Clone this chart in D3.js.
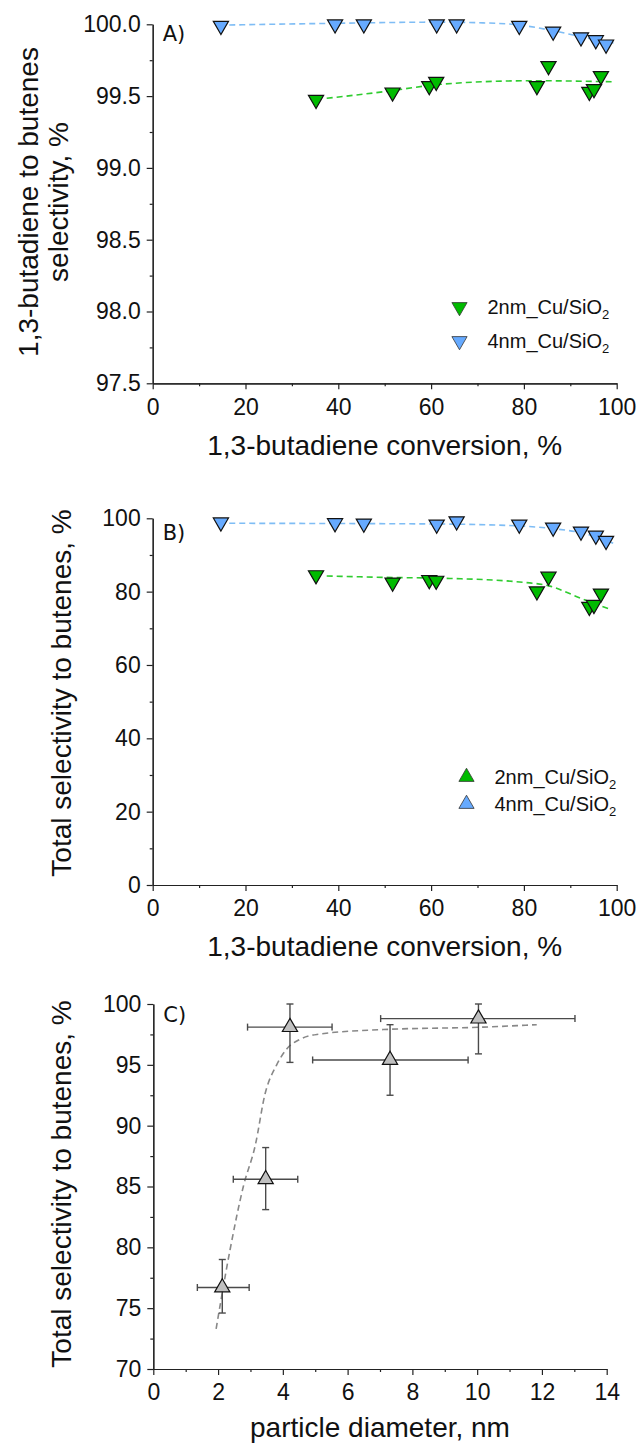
<!DOCTYPE html>
<html>
<head>
<meta charset="utf-8">
<script src="https://cdnjs.cloudflare.com/ajax/libs/d3/7.8.5/d3.min.js"></script>
<style>
  body { margin: 0; background: #fff; }
  svg text { font-family: "Liberation Sans", Arial, sans-serif; fill: #111; }
  .axis path, .axis line { stroke: #222; stroke-width: 1.2; }
</style>
</head>
<body>
<svg id="chart" width="638" height="1448"></svg>
<script>
// conversions (%) for each catalyst, shared by panels A and B
var conv2nm = [35.2, 51.7, 59.6, 61.1, 82.8, 85.3, 94.1, 95.1, 96.6];
var conv4nm = [14.7, 39.3, 45.5, 61.2, 65.5, 79.0, 86.3, 92.3, 95.5, 97.7];

// panel A: 1,3-butadiene to butenes selectivity
var selA2nm = [99.475, 99.526, 99.57, 99.60, 99.57, 99.71, 99.53, 99.55, 99.64];
var selA4nm = [99.99, 100.0, 100.0, 100.0, 100.0, 99.99, 99.95, 99.91, 99.89, 99.86];
var fitA2x = [37.5, 49.7, 60.5, 71.2, 82.0, 98.9];
var fitA2y = [99.485, 99.53, 99.577, 99.60, 99.607, 99.60];
var fitA4x = [16.5, 39.3, 61.2, 71.2, 79.0, 85.6, 92.8, 99.3];
var fitA4y = [99.995, 100.007, 100.015, 100.01, 99.995, 99.96, 99.91, 99.87];

// panel B: total selectivity to butenes
var selB2nm = [84.5, 82.5, 83.2, 83.0, 80.1, 84.1, 75.9, 76.4, 79.5];
var selB4nm = [98.9, 98.7, 98.6, 98.3, 99.2, 98.3, 97.5, 96.4, 95.3, 93.9];
var fitB2x = [37.5, 49.7, 64.1, 78.4, 85.6, 92.8, 98.5];
var fitB2y = [84.27, 83.9, 83.6, 82.7, 81.5, 77.9, 75.2];
var fitB4x = [16.5, 61.2, 79.0, 85.6, 92.8, 99.3];
var fitB4y = [98.64, 98.45, 97.9, 97.27, 95.9, 93.2];

// panel C: selectivity vs particle diameter
var diam = [2.13, 3.47, 4.22, 7.31, 10.04];
var diamLo = [1.36, 2.47, 2.91, 4.92, 7.02];
var diamHi = [2.96, 4.46, 5.52, 9.72, 13.02];
var selC = [76.7, 85.6, 98.1, 95.4, 98.8];
var selCLo = [74.6, 83.1, 95.2, 92.5, 95.9];
var selCHi = [79.0, 88.2, 100.0, 98.3, 100.0];
var fitCx = [1.94, 2.37, 2.78, 3.15, 3.45, 3.81, 4.12, 4.53, 5.05, 7.1, 10.19, 11.84];
var fitCy = [73.3, 79.8, 85.0, 88.4, 92.6, 95.0, 96.3, 97.1, 97.5, 97.9, 98.1, 98.3];

// tick values
var convTicks = [0, 20, 40, 60, 80, 100];
var convMinor = [10, 30, 50, 70, 90];
var yTicksA = [97.5, 98.0, 98.5, 99.0, 99.5, 100.0];
var yMinorA = [97.75, 98.25, 98.75, 99.25, 99.75];
var yTicksB = [0, 20, 40, 60, 80, 100];
var yMinorB = [10, 30, 50, 70, 90];
var diamTicks = [0, 2, 4, 6, 8, 10, 12, 14];
var diamMinor = [1, 3, 5, 7, 9, 11, 13];
var yTicksC = [70, 75, 80, 85, 90, 95, 100];
var yMinorC = [72.5, 77.5, 82.5, 87.5, 92.5, 97.5];

var green = '#00bb00', greenLine = '#2fcc2f';
var blue = '#66aaff', blueLine = '#7fbdf5';

var svg = d3.select('#chart');

function zip(xs, ys) {
    return xs.map(function(d, i) { return [d, ys[i]]; });
}

//Builds axes for one panel and returns its scales
function makePanel(p) {
    var x = d3.scaleLinear().domain(p.xDomain).range(p.xRange);
    var y = d3.scaleLinear().domain(p.yDomain).range(p.yRange);
    var g = svg.append('g');
    var bottom = p.yRange[0], left = p.xRange[0];

    g.append('g').attr('class', 'axis').attr('transform', 'translate(0,' + bottom + ')')
        .call(d3.axisBottom(x).tickValues(p.xMinor).tickSize(3).tickSizeOuter(0).tickFormat(''));
    g.append('g').attr('class', 'axis').attr('transform', 'translate(0,' + bottom + ')')
        .call(d3.axisBottom(x).tickValues(p.xTicks).tickSize(6).tickSizeOuter(0).tickPadding(9))
        .selectAll('text').style('font-size', '23px');
    g.append('g').attr('class', 'axis').attr('transform', 'translate(' + left + ',0)')
        .call(d3.axisLeft(y).tickValues(p.yMinor).tickSize(3).tickSizeOuter(0).tickFormat(''));
    g.append('g').attr('class', 'axis').attr('transform', 'translate(' + left + ',0)')
        .call(d3.axisLeft(y).tickValues(p.yTicks).tickSize(6).tickSizeOuter(0).tickPadding(6).tickFormat(p.yFormat))
        .selectAll('text').style('font-size', '23px');
    g.selectAll('.axis text').style('fill', '#111');

    // x title
    g.append('text').attr('x', (p.xRange[0] + p.xRange[1]) / 2).attr('y', p.xTitleY)
        .attr('text-anchor', 'middle').style('font-size', '28px').text(p.xTitle);
    // y title (one or two lines)
    var yt = g.append('text').attr('transform', 'translate(' + p.yTitleX + ',' + p.yTitleY + ') rotate(-90)')
        .attr('text-anchor', 'middle').style('font-size', '28px');
    p.yTitle.forEach(function(line, i) {
        yt.append('tspan').attr('x', 0).attr('y', i * 30).text(line);
    });
    // panel letter
    g.append('text').attr('x', left + 10).attr('y', p.labelY)
        .style('font-family', '"DejaVu Sans", Verdana, sans-serif').style('font-size', '21px').text(p.label);
    return {g: g, x: x, y: y};
}

function dashed(panel, xs, ys, color) {
    var line = d3.line().x(function(d) { return panel.x(d[0]); }).y(function(d) { return panel.y(d[1]); })
        .curve(d3.curveMonotoneX);
    panel.g.append('path').attr('d', line(zip(xs, ys)))
        .attr('fill', 'none').attr('stroke', color).attr('stroke-width', 1.6).attr('stroke-dasharray', '6,4');
}

var tri = d3.symbol().type(d3.symbolTriangle).size(100);

function markers(panel, xs, ys, fill, rot) {
    panel.g.selectAll(null).data(zip(xs, ys)).enter().append('path')
        .attr('d', tri())
        .attr('transform', function(d) { return 'translate(' + panel.x(d[0]) + ',' + panel.y(d[1]) + ') rotate(' + rot + ')'; })
        .attr('fill', fill).attr('stroke', '#111').attr('stroke-width', 1.2);
}

function legend(panel, lx, ly, gap, rot) {
    [['2nm_Cu/SiO', green], ['4nm_Cu/SiO', blue]].forEach(function(item, i) {
        var cy = ly + i * gap;
        panel.g.append('path').attr('d', tri())
            .attr('transform', 'translate(' + lx + ',' + cy + ') rotate(' + rot + ')')
            .attr('fill', item[1]).attr('stroke', '#333').attr('stroke-width', 0.8);
        var t = panel.g.append('text').attr('x', lx + 28).attr('y', cy + 7).style('font-size', '20px').text(item[0]);
        t.append('tspan').attr('dy', 5).style('font-size', '13px').text('2');
    });
}

// Panel A
var pA = makePanel({
    xDomain: [0, 100], xRange: [152.7, 616.7], yDomain: [97.5, 100], yRange: [383.3, 24.3],
    xTicks: convTicks, xMinor: convMinor, yTicks: yTicksA, yMinor: yMinorA, yFormat: d3.format('.1f'),
    xTitle: '1,3-butadiene conversion, %', xTitleY: 455,
    yTitle: ['1,3-butadiene to butenes', 'selectivity, %'], yTitleX: 38, yTitleY: 202,
    label: 'A)', labelY: 41
});
dashed(pA, fitA4x, fitA4y, blueLine);
dashed(pA, fitA2x, fitA2y, greenLine);
markers(pA, conv4nm, selA4nm, blue, 180);
markers(pA, conv2nm, selA2nm, green, 180);
legend(pA, 459.5, 307, 34, 180);

// Panel B
var pB = makePanel({
    xDomain: [0, 100], xRange: [152.7, 616.7], yDomain: [0, 100], yRange: [885, 518.3],
    xTicks: convTicks, xMinor: convMinor, yTicks: yTicksB, yMinor: yMinorB, yFormat: d3.format('d'),
    xTitle: '1,3-butadiene conversion, %', xTitleY: 956,
    yTitle: ['Total selectivity to butenes, %'], yTitleX: 71, yTitleY: 693,
    label: 'B)', labelY: 540
});
dashed(pB, fitB4x, fitB4y, blueLine);
dashed(pB, fitB2x, fitB2y, greenLine);
markers(pB, conv4nm, selB4nm, blue, 180);
markers(pB, conv2nm, selB2nm, green, 180);
legend(pB, 466.5, 777, 27, 0);

// Panel C
var pC = makePanel({
    xDomain: [0, 14], xRange: [153.3, 606.7], yDomain: [70, 100], yRange: [1369, 1004],
    xTicks: diamTicks, xMinor: diamMinor, yTicks: yTicksC, yMinor: yMinorC, yFormat: d3.format('d'),
    xTitle: 'particle diameter, nm', xTitleY: 1437,
    yTitle: ['Total selectivity to butenes, %'], yTitleX: 71, yTitleY: 1184,
    label: 'C)', labelY: 1022
});
dashed(pC, fitCx, fitCy, '#888');

var cap = 3.5;
diam.forEach(function(d, i) {
    var cx = pC.x(d), cy = pC.y(selC[i]);
    var x0 = pC.x(diamLo[i]), x1 = pC.x(diamHi[i]);
    var y0 = pC.y(selCLo[i]), y1 = pC.y(selCHi[i]);
    var eg = pC.g.append('g').attr('stroke', '#4a4a4a').attr('stroke-width', 1.4);
    eg.append('line').attr('x1', x0).attr('x2', x1).attr('y1', cy).attr('y2', cy);
    eg.append('line').attr('x1', x0).attr('x2', x0).attr('y1', cy - cap).attr('y2', cy + cap);
    eg.append('line').attr('x1', x1).attr('x2', x1).attr('y1', cy - cap).attr('y2', cy + cap);
    eg.append('line').attr('x1', cx).attr('x2', cx).attr('y1', y0).attr('y2', y1);
    eg.append('line').attr('x1', cx - cap).attr('x2', cx + cap).attr('y1', y0).attr('y2', y0);
    eg.append('line').attr('x1', cx - cap).attr('x2', cx + cap).attr('y1', y1).attr('y2', y1);
});
markers(pC, diam, selC, '#c0c0c0', 0);
</script>
</body>
</html>
